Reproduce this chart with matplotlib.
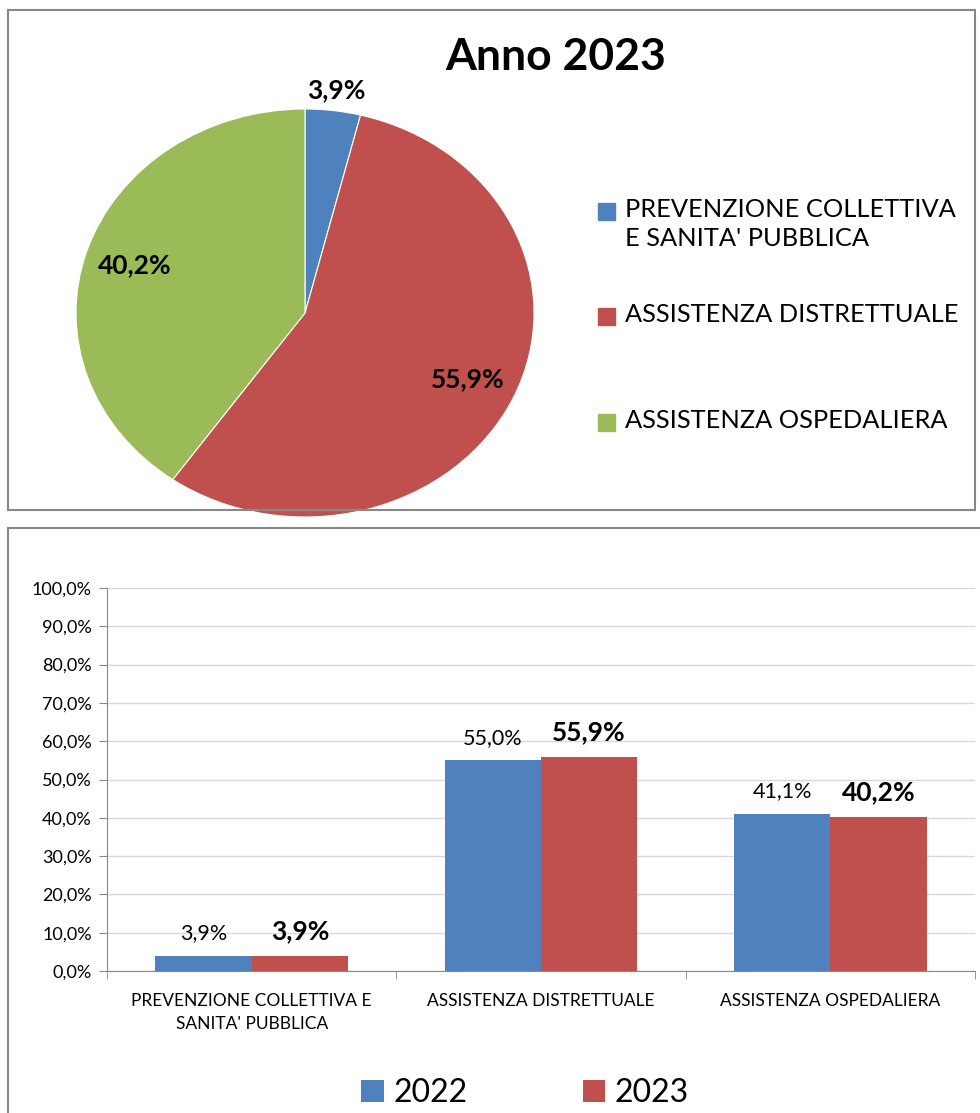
import matplotlib.pyplot as plt
from matplotlib.patches import Rectangle
import numpy as np

plt.rcParams['font.family'] = ['Lato', 'DejaVu Sans']

# data
categorie = ["PREVENZIONE COLLETTIVA\nE SANITA' PUBBLICA", "ASSISTENZA DISTRETTUALE", "ASSISTENZA OSPEDALIERA"]
categorie_bar = ["PREVENZIONE COLLETTIVA E\nSANITA' PUBBLICA", "ASSISTENZA DISTRETTUALE", "ASSISTENZA OSPEDALIERA"]
quote_2023 = [3.9, 55.9, 40.2]
quote_2022 = [3.9, 55.0, 41.1]
anni = ["2022", "2023"]
colori = ['#4F81BD', '#C0504D', '#9BBB59']

W, H = 980, 1113
fig = plt.figure(figsize=(W / 100, H / 100), dpi=100)


def box(x0, y0, x1, y1):
    # pixel box -> figure fraction [left, bottom, width, height]
    return [x0 / W, 1 - y1 / H, (x1 - x0) / W, (y1 - y0) / H]


def fmt(v):
    return f"{v:.1f}%".replace('.', ',')


# panel borders
for b in [box(8, 10, 975, 510), box(8, 528, 990, 1125)]:
    fig.patches.append(Rectangle((b[0], b[1]), b[2], b[3], transform=fig.transFigure,
                                 fill=False, edgecolor='#888888', linewidth=1.5))

'''################ PIE ################'''
ax1 = fig.add_axes(box(76, 109, 534, 517))
wedges, texts, autotexts = ax1.pie(quote_2023, colors=colori, startangle=90, counterclock=False,
                                   autopct=fmt, pctdistance=0.78,
                                   wedgeprops=dict(linewidth=0.8, edgecolor='white'),
                                   textprops=dict(fontsize=19, fontweight='bold'))
ax1.set_aspect('auto')
ax1.set_xlim(-1, 1)
ax1.set_ylim(-1, 1)
# small slice label outside
ang = np.deg2rad(90 - quote_2023[0] * 3.6 / 2)
autotexts[0].set_position((1.1 * np.cos(ang), 1.1 * np.sin(ang)))

fig.text(556 / W, 1 - 57 / H, "Anno 2023", fontsize=32, fontweight='bold', ha='center', va='center')

# legend of pie
leg_y = [211, 316, 422]
for lab, c, y in zip(categorie, colori, leg_y):
    fig.patches.append(Rectangle((598 / W, 1 - (y + 9) / H), 17 / W, 17 / H,
                                 transform=fig.transFigure, color=c))
    fig.text(625 / W, 1 - (y - 13) / H, lab, fontsize=18.3, va='top', ha='left', linespacing=1.3)

'''################ BAR ################'''
ax2 = fig.add_axes(box(107, 588, 975, 971))
x = np.arange(len(categorie_bar))
w = 1 / 3
b1 = ax2.bar(x - w / 2, quote_2022, w, color=colori[0], label=anni[0])
b2 = ax2.bar(x + w / 2, quote_2023, w, color=colori[1], label=anni[1])
for xi, v in zip(x - w / 2, quote_2022):
    ax2.annotate(fmt(v), (xi, v), xytext=(0, 9), textcoords='offset points',
                 ha='center', va='bottom', fontsize=15.5)
for xi, v in zip(x + w / 2, quote_2023):
    ax2.annotate(fmt(v), (xi, v), xytext=(0, 9), textcoords='offset points',
                 ha='center', va='bottom', fontsize=19, fontweight='bold')

ax2.set_xlim(-0.5, 2.5)
ax2.set_ylim(0, 100)
ax2.set_yticks(np.arange(0, 101, 10))
ax2.set_yticklabels([fmt(v) for v in np.arange(0, 101, 10)], fontsize=13)
ax2.yaxis.grid(True, color='#D9D9D9', linewidth=1)
ax2.set_axisbelow(True)
ax2.set_xticks(x)
ax2.set_xticklabels(categorie_bar, fontsize=12.5, linespacing=1.55)
ax2.tick_params(axis='x', length=0, pad=16)
ax2.set_xticks([-0.5, 0.5, 1.5, 2.5], minor=True)
ax2.tick_params(axis='x', which='minor', length=6, color='#888888')
ax2.tick_params(axis='y', length=6, color='#888888', pad=5)
for s in ['top', 'right']:
    ax2.spines[s].set_visible(False)
for s in ['left', 'bottom']:
    ax2.spines[s].set_color('#888888')

fig.legend(handles=[b1, b2], loc='center', bbox_to_anchor=(525 / W, 1 - 1093 / H), ncol=2,
           frameon=False, fontsize=23, handlelength=0.7, handleheight=0.7,
           handletextpad=0.3, columnspacing=3.6)

fig.savefig('out.png', dpi=100)
